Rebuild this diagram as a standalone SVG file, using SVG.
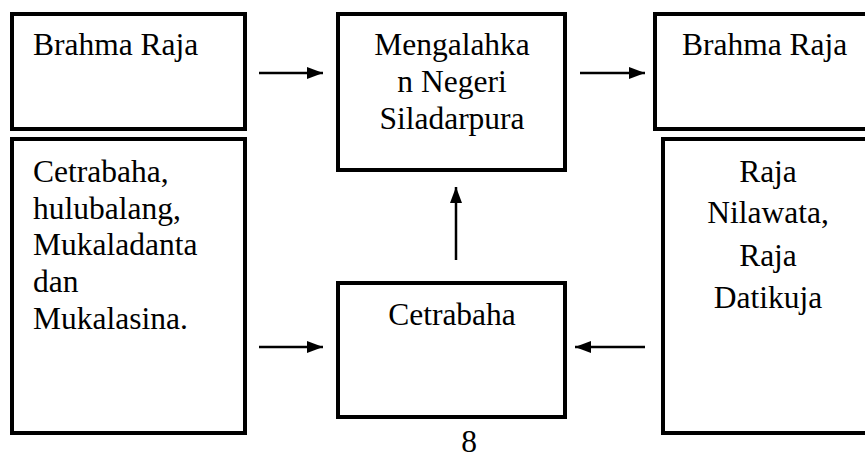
<svg xmlns="http://www.w3.org/2000/svg" width="865" height="459" viewBox="0 0 865 459">
<defs>
<style>
.box{fill:#fff;stroke:#000;stroke-width:4}
.t{font-family:'Liberation Serif','Times New Roman',serif;font-size:31.5px;fill:#000}
.c{text-anchor:middle}
.ln{stroke:#000;stroke-width:2.5;fill:none}
</style>
<marker id="ah" viewBox="0 0 16 12" refX="16" refY="6" markerWidth="16" markerHeight="12" markerUnits="userSpaceOnUse" orient="auto">
<path d="M0,0 L16,6 L0,12 Z" fill="#000"/>
</marker>
</defs>
<rect width="865" height="459" fill="#fff"/>
<g id="n1"><rect class="box" x="12" y="14" width="233" height="115"/><text class="t" x="33" y="55">Brahma Raja</text></g>
<g id="n2"><rect class="box" x="12" y="139" width="233" height="294"/>
<text class="t" x="33" y="182">Cetrabaha,</text>
<text class="t" x="33" y="219">hulubalang,</text>
<text class="t" x="33" y="255">Mukaladanta</text>
<text class="t" x="33" y="292">dan</text>
<text class="t" x="33" y="329">Mukalasina.</text></g>
<g id="n3"><rect class="box" x="338" y="14" width="227" height="156"/>
<text class="t c" x="452" y="55">Mengalahka</text>
<text class="t c" x="452" y="92">n Negeri</text>
<text class="t c" x="452" y="129">Siladarpura</text></g>
<g id="n4"><rect class="box" x="655" y="14" width="240" height="115"/><text class="t" x="682" y="55">Brahma Raja</text></g>
<g id="n5"><rect class="box" x="663" y="139" width="240" height="294"/>
<text class="t c" x="768" y="182">Raja</text>
<text class="t c" x="768" y="223">Nilawata,</text>
<text class="t c" x="768" y="266">Raja</text>
<text class="t c" x="768" y="308">Datikuja</text></g>
<g id="n6"><rect class="box" x="338" y="283" width="227" height="134"/><text class="t c" x="452" y="325">Cetrabaha</text></g>
<text class="t c" x="469" y="452">8</text>
<g id="connectors">
<line class="ln" x1="259" y1="73" x2="323" y2="73" marker-end="url(#ah)"/>
<line class="ln" x1="580" y1="73" x2="645" y2="73" marker-end="url(#ah)"/>
<line class="ln" x1="456" y1="260" x2="456" y2="187" marker-end="url(#ah)"/>
<line class="ln" x1="259" y1="347" x2="323" y2="347" marker-end="url(#ah)"/>
<line class="ln" x1="645" y1="347" x2="575" y2="347" marker-end="url(#ah)"/>
</g>
</svg>
